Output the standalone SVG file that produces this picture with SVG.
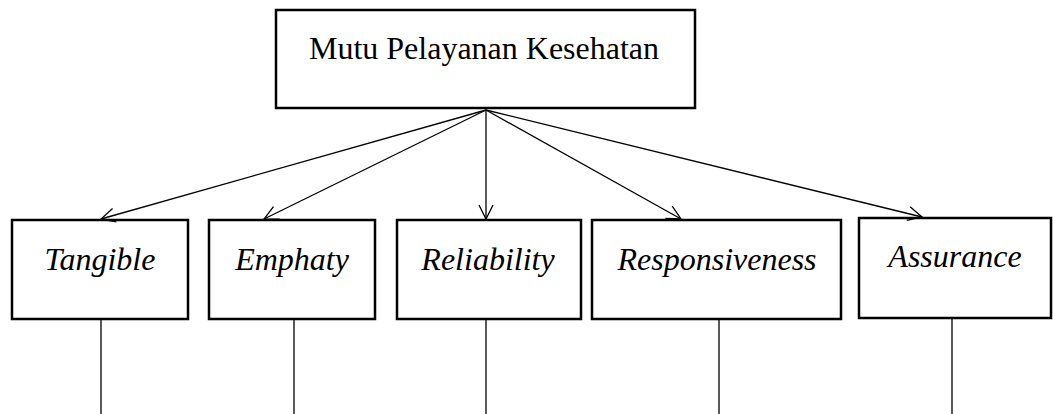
<svg xmlns="http://www.w3.org/2000/svg" width="1053" height="414" viewBox="0 0 1053 414">
<style>
.box{fill:#fff;stroke:#000;stroke-width:2.5}
.t{font-family:"Liberation Serif","Times New Roman",serif;font-size:32px;fill:#000;text-anchor:middle}
.i{font-style:italic}
.ln{stroke:#000;stroke-width:1.3;fill:none}
</style>
<defs>
<marker id="arr" markerWidth="20" markerHeight="20" refX="16" refY="8" orient="auto" markerUnits="userSpaceOnUse">
<path d="M2,1 L16,8 L2,15" fill="none" stroke="#000" stroke-width="1.3"/>
</marker>
</defs>
<g id="root">
<rect class="box" x="276" y="10" width="419" height="98"/>
<text class="t" x="484" y="59">Mutu Pelayanan Kesehatan</text>
</g>
<g id="tangible">
<rect class="box" x="12" y="220" width="176" height="99"/>
<text class="t i" x="100" y="270">Tangible</text>
</g>
<g id="emphaty">
<rect class="box" x="209" y="220" width="166" height="99"/>
<text class="t i" x="292" y="270">Emphaty</text>
</g>
<g id="reliability">
<rect class="box" x="397" y="220" width="184" height="99"/>
<text class="t i" x="488" y="270">Reliability</text>
</g>
<g id="responsiveness">
<rect class="box" x="592" y="220" width="249" height="99"/>
<text class="t i" x="717" y="270">Responsiveness</text>
</g>
<g id="assurance">
<rect class="box" x="859" y="218" width="192" height="100"/>
<text class="t i" x="955" y="267">Assurance</text>
</g>
<g id="connectors">
<line class="ln" x1="486" y1="110" x2="101" y2="219" marker-end="url(#arr)"/>
<line class="ln" x1="486" y1="110" x2="264" y2="219" marker-end="url(#arr)"/>
<line class="ln" x1="486" y1="110" x2="486" y2="219" marker-end="url(#arr)"/>
<line class="ln" x1="486" y1="110" x2="681" y2="219" marker-end="url(#arr)"/>
<line class="ln" x1="486" y1="110" x2="922" y2="217" marker-end="url(#arr)"/>
<line class="ln" x1="101" y1="320" x2="101" y2="414"/>
<line class="ln" x1="294" y1="320" x2="294" y2="414"/>
<line class="ln" x1="486" y1="320" x2="486" y2="414"/>
<line class="ln" x1="719" y1="320" x2="719" y2="414"/>
<line class="ln" x1="952" y1="319" x2="952" y2="414"/>
</g>
</svg>
